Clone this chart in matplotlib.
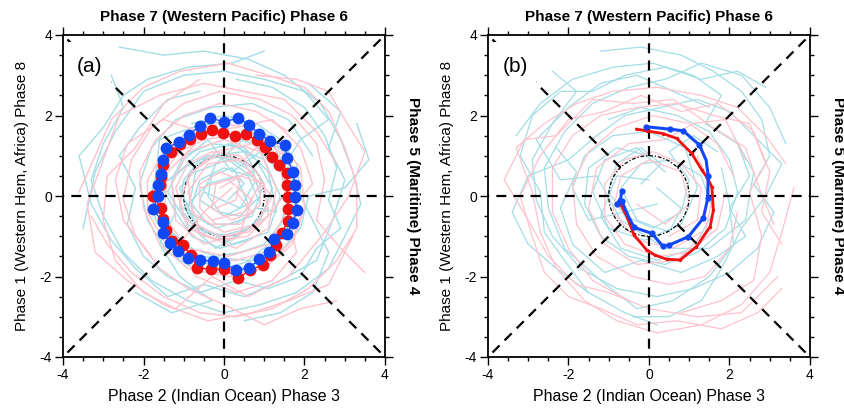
import numpy as np
import matplotlib
matplotlib.use("Agg")
import matplotlib.pyplot as plt
from matplotlib.patches import Circle, Rectangle

plt.rcParams['font.family'] = ['Liberation Sans', 'DejaVu Sans']
plt.rcParams['axes.unicode_minus'] = False

# ---------------- data ----------------
tick_values = [-4, -2, 0, 2, 4]
tick_labels = ["-4", "-2", "0", "2", "4"]
panel_labels = ["(a)", "(b)"]
top_label = "Phase 7 (Western Pacific) Phase 6"
bottom_label = "Phase 2 (Indian Ocean) Phase 3"
left_label = "Phase 1 (Western Hem, Africa) Phase 8"
right_label = "Phase 5 (Maritime) Phase 4"

# panel (a) composite rings
a_blue_x = [-1.63, -1.63, -1.57, -1.52, -1.44, -1.12, -0.86, -0.60, -0.35, 0.01, 0.36, 0.63,
            0.88, 1.14, 1.52, 1.56, 1.72, 1.76, 1.76, 1.81, 1.72, 1.56, 1.24, 1.13,
            0.88, 0.63, 0.30, 0.01, -0.27, -0.60, -0.89, -1.14, -1.34, -1.51, -1.51, -1.77, -1.63]
a_blue_y = [0.01, 0.27, 0.55, 0.89, 1.20, 1.33, 1.52, 1.75, 1.93, 1.85, 1.93, 1.76,
            1.53, 1.37, 1.27, 0.94, 0.60, 0.27, -0.02, -0.35, -0.66, -0.94, -1.08, -1.39,
            -1.56, -1.79, -1.85, -1.66, -1.62, -1.60, -1.54, -1.37, -1.16, -0.91, -0.65, -0.33, 0.01]
a_red_x = [-1.76, -1.59, -1.57, -1.51, -1.32, -1.09, -0.84, -0.58, -0.31, -0.02, 0.27, 0.55,
           0.81, 1.02, 1.19, 1.37, 1.56, 1.57, 1.58, 1.60, 1.58, 1.44, 1.29, 1.14,
           0.96, 0.65, 0.36, 0.00, -0.33, -0.66, -0.83, -1.03, -1.30, -1.44, -1.51, -1.57, -1.76]
a_red_y = [0.01, 0.27, 0.48, 0.77, 1.09, 1.28, 1.42, 1.53, 1.64, 1.56, 1.50, 1.53,
           1.39, 1.22, 0.98, 0.77, 0.56, 0.27, -0.02, -0.32, -0.62, -0.92, -1.22, -1.47,
           -1.72, -1.84, -2.04, -1.82, -1.81, -1.79, -1.46, -1.22, -1.13, -0.84, -0.58, -0.30, 0.01]

# panel (b) composite tracks
b_blue_x = [-0.07, 0.52, 0.85, 1.25, 1.42, 1.47, 1.46, 1.35, 0.98, 0.50, 0.34, 0.07,
            -0.37, -0.51, -0.60, -0.68, -0.80, -0.70, -0.68]
b_blue_y = [1.72, 1.66, 1.62, 1.27, 0.89, 0.50, -0.06, -0.55, -1.01, -1.22, -1.24, -0.93,
            -0.78, -0.51, -0.30, -0.12, -0.20, -0.05, 0.13]
b_blue_dot = [1, 1, 1, 1, 0, 1, 1, 1, 1, 1, 1, 1, 1, 0, 0, 1, 1, 0, 1]
b_red_x = [-0.31, -0.06, 0.35, 0.69, 1.06, 1.31, 1.45, 1.56, 1.60, 1.52, 1.18, 0.77,
           0.44, 0.15, -0.06, -0.37, -0.55, -0.72]
b_red_y = [1.66, 1.62, 1.55, 1.43, 1.06, 0.65, 0.45, 0.23, -0.35, -0.76, -1.26, -1.59,
           -1.57, -1.47, -1.34, -0.97, -0.51, -0.18]

# individual event trajectories (light lines), panel (a)
a_cyan = [
    [(-2.6,3.7),(-1.5,3.5),(-0.5,3.6),(0.6,3.4),(1.5,3.0),(2.4,2.3),(2.9,1.4),(3.2,0.6),(3.4,-0.2),(3.0,-1.0),(2.6,-1.8),(1.8,-2.4),(0.9,-2.7),(0.0,-2.9),(-0.9,-2.6),(-1.8,-2.1),(-2.5,-1.4),(-3.0,-0.5),(-3.3,0.4),(-3.0,1.3),(-2.5,2.2),(-2.8,3.0)],
    [(0.3,2.9),(1.2,2.7),(2.0,2.2),(2.5,1.5),(2.8,0.7),(2.6,-0.1),(2.9,-0.8),(2.3,-1.3),(1.9,-2.0),(1.1,-2.3),(0.3,-2.1),(-0.6,-2.4),(-1.4,-2.0),(-2.0,-1.5),(-2.4,-0.7),(-2.2,0.2),(-2.6,1.0),(-2.1,1.7),(-1.4,2.4),(-0.6,2.6)],
    [(-1.2,0.5),(-0.6,1.1),(0.2,1.3),(0.8,0.9),(1.2,0.2),(0.9,-0.6),(0.3,-1.0),(-0.5,-0.9),(-1.0,-0.3),(-0.4,0.3),(0.3,0.5),(0.6,-0.2),(0.0,-0.5),(-0.6,-0.1),(-0.2,0.8),(0.7,1.6),(1.5,1.1),(1.8,0.2),(1.5,-0.9),(0.6,-1.6),(-0.6,-1.5),(-1.5,-0.8)],
    [(2.2,1.0),(1.6,1.9),(0.7,2.3),(-0.3,2.2),(-1.2,1.9),(-1.8,1.2),(-2.1,0.3),(-1.9,-0.6),(-1.4,-1.4),(-0.6,-1.9),(0.4,-1.8),(1.3,-1.5),(1.9,-0.8),(2.1,0.0),(3.0,0.2),(3.6,0.9),(3.3,1.8)],
    [(-3.5,-0.8),(-3.2,0.6),(-2.7,1.6),(-2.0,2.6),(-1.0,3.0),(0.0,3.1),(1.0,2.9),(2.0,2.6),(2.6,1.9),(1.9,1.4),(1.4,0.6),(0.9,1.1),(0.2,0.6),(-0.4,1.4),(-1.0,0.9),(-1.4,0.1),(-0.9,-0.7),(-0.2,-1.3),(0.6,-0.8)],
    [(0.5,-3.1),(1.4,-2.9),(2.2,-2.4),(2.6,-1.4),(2.2,-0.6),(1.7,0.4),(1.1,1.5),(0.2,1.9),(-0.8,1.7),(-1.6,1.4),(-1.7,0.5),(-1.2,-0.4),(-1.6,-1.2),(-1.1,-2.0),(-0.3,-2.6),(-1.3,-2.9),(-2.2,-2.4)],
    [(-0.5,0.1),(0.4,-0.3),(0.8,0.4),(0.1,0.9),(-0.7,0.6),(-0.9,-0.4),(-0.2,-0.8),(0.7,-0.5),(1.0,0.3),(0.5,1.1),(-0.4,1.0),(-1.1,0.2),(-0.7,-0.7),(0.2,-1.2),(1.1,-0.9),(1.4,0.0),(1.0,0.9),(0.1,1.3)],
    [(1.0,3.6),(0.2,3.3),(-0.9,3.2),(-1.9,2.9),(-2.5,2.5),(-3.0,1.7),(-3.6,1.0),(-3.3,-0.2),(-2.8,-1.1),(-2.2,-1.8),(-1.4,-2.5),(-0.5,-2.2),(0.5,-2.5),(1.4,-2.1),(2.3,-1.6),(2.7,-0.6),(3.0,0.4),(2.6,1.2),(2.9,2.1),(2.1,2.8)],
    [(-1.5,1.0),(-1.1,1.4),(-0.5,1.6),(0.1,1.5),(0.7,1.3),(1.2,1.0),(1.5,0.5),(1.6,-0.1),(1.4,-0.7),(1.0,-1.2),(0.4,-1.4),(-0.2,-1.5),(-0.8,-1.3),(-1.3,-0.9),(-1.6,-0.3),(-1.5,0.3),(-1.0,0.7),(-0.4,1.0),(0.2,0.9),(0.7,0.6)],
    [(0.9,-0.2),(0.6,0.5),(0.0,0.7),(-0.6,0.4),(-0.8,-0.2),(-0.4,-0.7),(0.3,-0.7),(0.8,-0.3),(1.3,-0.4),(1.1,0.6),(0.5,1.2),(-0.3,1.3),(-1.0,1.0),(-1.3,0.4),(-1.2,-0.4),(-0.8,-1.0),(-0.1,-1.3),(0.6,-1.1)],
    [(-0.8,1.8),(0.0,2.0),(0.8,1.8),(1.4,1.4),(1.8,0.8),(1.9,0.1),(1.7,-0.6),(1.3,-1.2),(0.7,-1.6),(0.0,-1.8),(-0.7,-1.6),(-1.3,-1.2),(-1.7,-0.6),(-1.8,0.1),(-1.6,0.8),(-1.2,1.3)],
    [(0.1,-0.1),(0.5,0.3),(0.2,0.7),(-0.3,0.5),(-0.4,0.0),(-0.1,-0.4),(0.4,-0.5),(0.9,0.0),(0.7,0.7),(0.1,1.0),(-0.6,0.9),(-1.0,0.4),(-1.1,-0.3),(-0.7,-0.8),(-0.1,-1.0),(0.6,-0.8),(1.1,-0.3)],
]
a_pink = [
    [(-3.6,0.1),(-3.2,1.0),(-2.8,1.9),(-2.0,2.7),(-1.1,3.1),(0.1,3.3),(1.1,3.0),(2.0,2.7),(2.6,2.1),(3.0,1.2),(3.3,0.3),(3.3,-0.8),(2.8,-1.6),(2.1,-2.3),(1.2,-2.8),(0.3,-3.0),(-0.6,-2.9),(-1.5,-2.5),(-2.3,-1.9),(-2.9,-1.2),(-3.3,-0.5)],
    [(1.6,1.6),(0.8,2.1),(-0.1,2.3),(-1.0,2.0),(-1.7,1.4),(-2.1,0.6),(-2.0,-0.3),(-1.6,-1.2),(-0.9,-1.8),(0.1,-2.0),(1.0,-1.8),(1.7,-1.2),(2.0,-0.3),(1.9,0.7),(1.4,1.3)],
    [(-0.3,-0.6),(0.5,-0.4),(0.9,0.3),(0.4,0.9),(-0.4,0.8),(-0.9,0.1),(-0.6,-0.9),(0.3,-1.3),(1.1,-0.8),(1.3,0.2),(0.9,1.1),(0.0,1.4),(-0.9,1.1),(-1.3,0.3),(-1.2,-0.6),(-0.5,-1.2),(0.4,-0.9),(0.7,-0.1),(0.1,0.4),(-0.6,0.2)],
    [(2.8,-2.6),(1.9,-2.8),(1.0,-3.2),(0.0,-2.7),(-0.9,-2.3),(-1.6,-1.8),(-2.2,-1.0),(-2.5,-0.1),(-2.3,0.9),(-1.8,1.7),(-1.0,2.3),(-0.1,2.6),(0.9,2.4),(1.7,2.0),(2.3,1.3),(2.5,0.4),(2.3,-0.6),(2.9,-1.3),(3.5,-1.9)],
    [(-1.8,-1.5),(-2.5,-0.6),(-2.7,0.4),(-2.4,1.3),(-1.5,1.9),(-0.6,1.6),(0.3,1.7),(1.2,1.9),(1.9,1.2),(2.2,0.3),(1.6,-0.4),(1.8,-1.4),(1.2,-2.1),(0.3,-2.4),(-0.7,-2.0),(-1.1,-1.2),(-0.5,-0.4),(0.2,0.2)],
    [(0.8,3.0),(1.8,2.9),(2.6,2.6),(3.0,1.9),(3.5,1.1),(3.1,0.0),(2.5,-0.9),(1.6,-2.0),(0.6,-2.5),(-0.3,-2.0),(-1.2,-2.8),(-2.0,-2.4),(-2.7,-1.6),(-3.0,-0.6),(-2.9,0.5),(-2.2,1.2),(-1.5,2.3),(-0.6,2.9)],
    [(-0.1,0.2),(0.6,0.6),(1.2,0.0),(0.8,-0.7),(0.0,-0.9),(-0.8,-0.4),(-0.9,0.5),(-0.2,1.1),(0.7,1.3),(1.4,0.7),(1.6,-0.3),(1.1,-1.2),(0.1,-1.5),(-0.9,-1.3),(-1.5,-0.5),(-1.4,0.6),(-0.7,1.3)],
    [(3.2,-1.0),(2.6,-2.2),(1.6,-2.6),(0.7,-2.9),(-0.4,-3.1),(-1.5,-2.7),(-2.4,-2.1),(-3.2,-1.4),(-3.4,-0.2),(-3.0,0.9),(-2.6,2.0),(-1.6,2.5),(-0.5,2.8),(0.5,2.6),(1.5,2.4),(2.3,1.6),(2.8,0.8)],
    [(1.5,-1.0),(1.0,-1.4),(0.3,-1.6),(-0.4,-1.6),(-1.0,-1.3),(-1.5,-0.8),(-1.7,-0.1),(-1.5,0.6),(-1.1,1.1),(-0.5,1.4),(0.2,1.5),(0.9,1.3),(1.4,0.8),(1.6,0.2),(1.2,-0.4),(0.6,-0.9),(-0.1,-1.0),(-0.7,-0.7)],
    [(-0.2,-0.3),(0.3,-0.1),(0.4,0.4),(-0.1,0.6),(-0.6,0.3),(-0.6,-0.3),(-0.2,-0.7),(0.4,-0.7),(0.9,-0.2),(0.9,0.5),(0.4,1.0),(-0.3,1.1),(-0.9,0.8),(-1.2,0.2),(-1.0,-0.5),(-0.5,-1.0),(0.2,-1.1),(0.8,-0.7)],
    [(1.9,-0.5),(1.7,-1.1),(1.2,-1.6),(0.5,-1.9),(-0.3,-1.9),(-1.0,-1.6),(-1.5,-1.1),(-1.9,-0.4),(-1.9,0.4),(-1.5,1.1),(-0.9,1.6),(-0.1,1.8),(0.7,1.7),(1.3,1.3),(1.8,0.6)],
    [(0.3,0.1),(0.7,-0.4),(0.2,-0.6),(-0.3,-0.3),(-0.2,0.3),(0.4,0.5),(1.0,0.3),(1.1,-0.5),(0.6,-1.0),(-0.2,-1.1),(-0.9,-0.8),(-1.1,-0.1),(-0.8,0.6),(-0.2,1.0),(0.5,0.9),(1.0,1.4),(1.6,0.9)],
]

# individual event trajectories (light lines), panel (b)
b_cyan = [
    [(-1.2,3.6),(-0.2,3.7),(0.8,3.5),(1.6,3.1),(2.3,2.6),(2.8,1.9),(3.0,1.0),(2.6,0.3),(3.1,-0.4),(2.7,-1.3),(2.0,-1.9),(1.1,-2.3),(0.2,-2.5),(-0.8,-2.3),(-1.7,-1.8),(-2.4,-1.0),(-2.8,-0.1),(-2.9,0.9),(-2.4,1.8),(-1.8,2.6),(-2.4,3.1)],
    [(-3.3,1.5),(-2.7,2.3),(-1.9,2.9),(-0.9,3.2),(0.1,3.3),(1.1,3.0),(1.8,2.5),(1.4,1.8),(2.2,1.3),(2.5,0.5),(2.0,-0.3),(2.4,-1.0),(1.7,-1.5),(0.8,-1.9),(-0.2,-1.6),(-1.1,-1.9),(-1.9,-1.2),(-2.2,-0.3),(-1.8,0.6),(-2.3,1.2)],
    [(0.4,0.6),(-0.3,1.2),(-1.1,0.9),(-1.4,0.1),(-1.0,-0.8),(-0.1,-1.1),(0.8,-0.7),(1.2,0.2),(0.9,1.2),(0.0,1.6),(-0.9,1.5),(-1.6,1.0),(-1.9,0.2),(-1.5,-0.6),(-0.6,-0.4),(0.2,-0.2)],
    [(3.4,1.3),(3.0,2.2),(2.3,3.0),(1.3,3.3),(0.4,2.9),(-0.5,2.7),(-1.4,2.3),(-2.1,1.6),(-2.6,0.7),(-2.5,-0.3),(-2.1,-1.3),(-1.2,-2.1),(-0.3,-2.8),(0.6,-2.6),(1.5,-2.0),(2.1,-1.2),(2.0,-0.2),(1.8,0.7)],
    [(-0.4,-3.0),(0.5,-3.0),(1.3,-2.6),(1.8,-1.8),(2.3,-0.8),(2.9,0.0),(3.3,0.8),(2.7,1.4),(2.0,2.1),(1.2,2.4),(0.3,2.2),(-0.6,2.0),(-1.3,1.5),(-2.0,0.9),(-3.0,0.5),(-3.4,-0.4),(-3.0,-1.2),(-2.3,-1.8),(-1.5,-2.4)],
    [(0.2,0.2),(0.8,-0.3),(0.5,-0.9),(-0.3,-0.6),(-0.7,0.2),(-0.2,0.8),(0.6,0.9),(1.3,0.5),(1.6,-0.4),(1.1,-1.3),(0.2,-1.6),(-0.7,-1.3),(-1.2,-0.5),(-0.8,0.5),(0.0,0.4)],
    [(1.5,2.2),(0.6,2.6),(-0.3,3.0),(-1.2,2.8),(-2.0,2.2),(-2.8,1.4),(-2.2,0.4),(-1.3,0.5),(-0.7,-0.6),(0.4,-1.3),(1.5,-1.3),(2.4,-0.6),(2.6,0.6),(2.1,1.5)],
    [(-1.0,1.9),(-0.2,2.2),(0.7,2.0),(1.5,1.6),(2.0,0.9),(2.2,0.1),(1.9,-0.8),(1.2,-1.4),(0.4,-1.7),(-0.5,-1.5),(-1.2,-1.0),(-1.6,-0.2),(-1.5,0.7),(-0.8,1.2),(0.0,1.0)],
    [(2.9,2.7),(2.2,3.1),(1.3,2.9),(0.4,3.2),(-0.6,3.0),(-1.4,2.6),(-2.2,2.6),(-2.9,2.0),(-3.2,1.0),(-2.7,0.1),(-2.6,-0.9),(-2.1,-1.6),(-1.5,-2.4),(-0.6,-2.9),(0.2,-3.2)],
    [(-0.2,0.3),(0.3,0.8),(-0.2,1.2),(-0.8,0.8),(-1.0,0.1),(-0.6,-0.5),(0.1,-0.8),(0.8,-0.4),(1.0,0.4),(0.5,1.1),(1.1,1.5),(1.7,1.1)],
]
b_pink = [
    [(3.6,0.2),(3.3,-0.9),(3.0,-1.9),(2.3,-2.7),(1.3,-3.2),(0.2,-3.4),(-0.8,-3.1),(-1.6,-2.6),(-2.3,-1.8),(-2.7,-0.9),(-2.9,0.1),(-3.3,1.2),(-2.6,1.8),(-1.8,2.3),(-0.9,2.6),(0.2,2.7),(1.3,2.5),(2.2,2.2),(2.9,1.5),(3.4,0.8)],
    [(2.2,-0.4),(2.0,-1.3),(1.4,-2.0),(0.5,-2.2),(-0.4,-2.0),(-1.3,-1.5),(-1.8,-0.7),(-1.9,0.3),(-1.5,1.1),(-0.8,1.7),(0.1,2.0),(1.0,1.8),(1.7,1.3),(2.1,0.5)],
    [(0.8,-2.9),(1.8,-2.6),(2.6,-2.1),(2.8,-1.0),(2.5,0.1),(2.9,0.8),(2.5,1.8),(1.6,2.0),(0.7,2.3),(-0.3,2.2),(-1.2,2.0),(-1.9,1.5),(-2.4,0.7),(-2.4,-0.4),(-2.0,-1.3),(-1.4,-2.1),(-0.5,-2.6)],
    [(-0.3,-0.2),(0.4,-0.7),(1.0,-0.2),(0.8,0.6),(0.0,0.9),(-0.7,0.5),(-0.9,-0.4),(-0.3,-1.1),(0.6,-1.3),(1.3,-0.9)],
    [(3.2,-2.0),(2.3,-2.9),(1.2,-3.0),(0.0,-2.8),(-1.0,-2.4),(-1.8,-2.2),(-2.5,-1.5),(-3.0,-0.6),(-3.6,0.4),(-3.1,1.4),(-2.3,1.5),(-1.4,2.4),(-0.4,2.3),(0.6,2.4),(1.6,1.7),(2.4,1.2),(2.7,0.3),(3.1,-0.7)],
    [(1.2,1.0),(1.6,0.1),(1.4,-0.9),(0.7,-1.6),(-0.3,-1.7),(-1.1,-1.2),(-1.5,-0.3),(-1.3,0.7),(-0.5,1.3),(0.4,1.4),(1.1,1.8),(1.9,1.9),(2.4,0.9)],
    [(0.5,-1.0),(1.2,-0.6),(1.3,0.2),(0.8,0.8),(0.1,1.1),(-0.6,0.9),(-1.1,0.3),(-1.1,-0.5),(-0.6,-1.2),(0.2,-1.5),(1.0,-1.4),(1.7,-0.8),(1.9,0.1)],
    [(3.3,-2.3),(2.7,-2.9),(1.8,-3.3),(0.7,-3.1),(-0.3,-3.2),(-1.2,-2.8),(-2.0,-2.5),(-2.6,-1.9),(-2.9,-1.0),(-3.2,0.0),(-2.7,1.0),(-2.0,1.9),(-1.1,2.1),(-0.2,2.5),(0.8,2.1),(1.7,2.3),(2.6,1.6),(3.0,0.6),(2.8,-0.4),(3.3,-1.2)],
]

# ---------------- styles ----------------
CYAN = "#a3dde6"
PINK = "#ffc2cc"
RED = "#f01010"
BLUE = "#1048f8"

fig = plt.figure(figsize=(8.45, 4.08), dpi=100)
W, H = 845.0, 408.0


def make_axes(x0px):
    ax = fig.add_axes([x0px / W, (H - 357) / H, 322 / W, 322 / H])
    ax.set_xlim(-4, 4)
    ax.set_ylim(-4, 4)
    ax.set_xticks(tick_values)
    ax.set_xticklabels(tick_labels, fontsize=10)
    ax.set_yticks(tick_values)
    ax.set_yticklabels(tick_labels, fontsize=10)
    ax.set_xticks(np.arange(-4, 4.01, 0.5), minor=True)
    ax.set_yticks(np.arange(-4, 4.01, 0.5), minor=True)
    ax.tick_params(which='both', direction='out', top=True, right=True,
                   labeltop=False, labelright=False, width=1.0, pad=2)
    ax.tick_params(which='major', length=6)
    ax.tick_params(which='minor', length=3)
    for s in ax.spines.values():
        s.set_linewidth(1.3)
    # phase dividing lines
    for k in range(8):
        ang = np.deg2rad(45 * k)
        c, s = np.cos(ang), np.sin(ang)
        R = 4.0 / max(abs(c), abs(s))
        ax.plot([c, c * R], [s, s * R], color='black', lw=1.6,
                dashes=(4.5, 3.2), zorder=3, solid_capstyle='butt', dash_capstyle='butt')
    return ax


def decorate(ax, label, circle_z):
    ax.add_patch(Circle((0, 0), 1.0, fill=False, ec='black', lw=0.9,
                        ls=(0, (3, 1.5, 1, 1.5)), zorder=circle_z))
    ax.add_patch(Rectangle((-3.85, 2.78), 1.05, 1.05, fc='white', ec='none', zorder=5))
    ax.text(-3.33, 3.22, label, fontsize=15, ha='center', va='center', zorder=6)


def spaghetti(ax, cyan, pink, lw):
    for tr in cyan:
        xs, ys = zip(*tr)
        ax.plot(xs, ys, color=CYAN, lw=lw, zorder=1)
    for tr in pink:
        xs, ys = zip(*tr)
        ax.plot(xs, ys, color=PINK, lw=lw, zorder=1)


# ---- panel (a)
ax1 = make_axes(63)
spaghetti(ax1, a_cyan, a_pink, 1.0)
decorate(ax1, panel_labels[0], 0.5)
ax1.plot(a_red_x, a_red_y, color=RED, lw=0.9, marker='o', ms=8.5, mec='none', zorder=7)
ax1.plot(a_blue_x, a_blue_y, color=BLUE, lw=0.9, marker='o', ms=8.5, mec='none', zorder=8)

# ---- panel (b)
ax2 = make_axes(488)
spaghetti(ax2, b_cyan, b_pink, 0.9)
decorate(ax2, panel_labels[1], 4)
ax2.plot(b_red_x, b_red_y, color=RED, lw=2.0, marker='o', ms=2.5, mec='none', zorder=7)
ax2.plot(b_blue_x, b_blue_y, color=BLUE, lw=2.2, zorder=8)
bx = [x for x, d in zip(b_blue_x, b_blue_dot) if d]
by = [y for y, d in zip(b_blue_y, b_blue_dot) if d]
ax2.plot(bx, by, ls='none', marker='o', ms=4.5, color=BLUE, mec='none', zorder=9)

# ---- axis titles
for x0 in (63, 488):
    cx = (x0 + 161) / W
    fig.text(cx, 1 - 17 / H, top_label, ha='center', va='center', fontsize=11, fontweight='bold')
    fig.text(cx, 1 - 396 / H, bottom_label, ha='center', va='center', fontsize=11.5)
    fig.text((x0 - 41) / W, 1 - 196 / H, left_label, ha='center', va='center',
             fontsize=11, rotation=90)
    fig.text((x0 + 350) / W, 1 - 196 / H, right_label, ha='center', va='center',
             fontsize=11, fontweight='bold', rotation=270)

fig.savefig("out.png", dpi=100)
